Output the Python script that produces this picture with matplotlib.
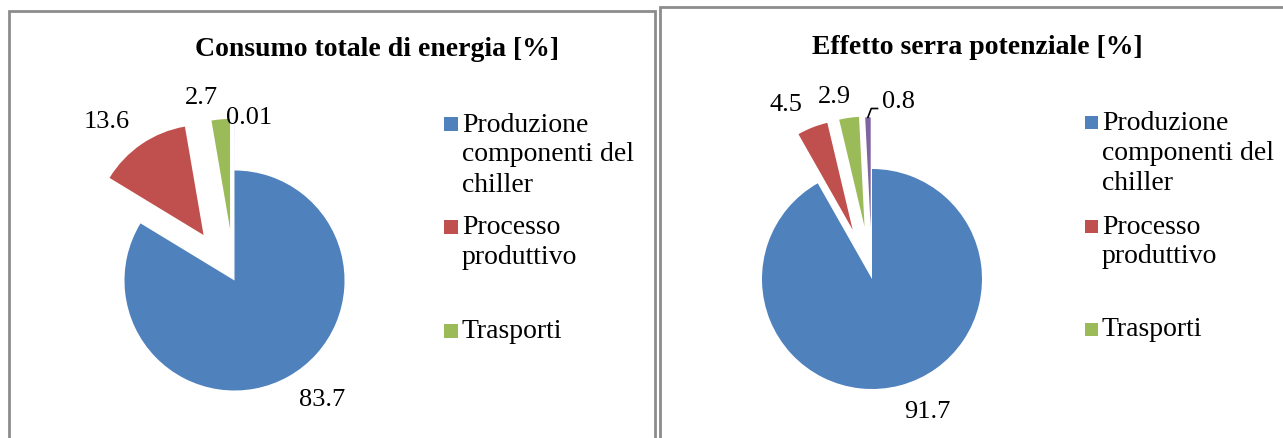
import matplotlib
matplotlib.use("Agg")
import matplotlib.pyplot as plt
import numpy as np
from matplotlib.patches import Rectangle

W, H = 1283, 439
DPI = 100

# data
categories = ["Produzione\ncomponenti del\nchiller", "Processo\nproduttivo", "Trasporti", "Altro"]
energy_values = [83.7, 13.6, 2.7, 0.01]
energy_labels = ["83.7", "13.6", "2.7", "0.01"]
gwp_values = [91.7, 4.5, 2.9, 0.8]
gwp_labels = ["91.7", "4.5", "2.9", "0.8"]
colors = ["#4F81BD", "#C0504D", "#9BBB59", "#8064A2"]

SERIF = ["Liberation Serif", "DejaVu Serif"]
BORDER = "#8c8c8c"


def fx(x):
    return x / W


def fy(y):
    return 1 - y / H


def fit_axes(ax, cx, cy, r, box):
    """Data units = one pie radius, pie centre at pixel (cx, cy)."""
    x0, y0, x1, y1 = box
    ax.set_position([fx(x0), fy(y1), (x1 - x0) / W, (y1 - y0) / H])
    ax.set_aspect("auto")
    ax.set_xlim((x0 - cx) / r, (x1 - cx) / r)
    ax.set_ylim((cy - y1) / r, (cy - y0) / r)
    ax.axis("off")


def legend(fig, x, rows, size):
    for cat, color, ys in zip(categories[:3], colors, rows):
        fig.patches.append(Rectangle((fx(x), fy(ys[0] + size / 2)), size / W, size / H,
                                     transform=fig.transFigure, facecolor=color,
                                     edgecolor="none"))
        for line, y in zip(cat.split("\n"), ys):
            fig.text(fx(x + size + 4), fy(y), line, family=SERIF, fontsize=20,
                     ha="left", va="center")


fig = plt.figure(figsize=(W / DPI, H / DPI), dpi=DPI)

# panel frames
fig.patches.append(Rectangle((fx(8.5), fy(460)), (655 - 8.5) / W, (460 - 11.5) / H,
                             transform=fig.transFigure, fill=False, edgecolor=BORDER, lw=2))
fig.patches.append(Rectangle((fx(660), fy(460)), (1300 - 660) / W, (460 - 8) / H,
                             transform=fig.transFigure, fill=False, edgecolor=BORDER, lw=2))

# left: energy
ax1 = fig.add_axes([0, 0, 1, 1])
ax1.pie(energy_values, colors=colors, startangle=90, counterclock=False,
        explode=[0, 0.5, 0.47, 0.47], wedgeprops={"linewidth": 0})
fit_axes(ax1, 234.5, 281.5, 110, (20, 60, 430, 439))
label_pos1 = [(0.80, -1.08), (-1.16, 1.45), (-0.30, 1.67), (0.13, 1.49)]
for txt, (x, y) in zip(energy_labels, label_pos1):
    ax1.text(x, y, txt, family=SERIF, fontsize=19, ha="center", va="center")
fig.text(fx(377), fy(50), "Consumo totale di energia [%]", family=SERIF, fontsize=20,
         fontweight="bold", ha="center", va="center")
legend(fig, 444, [(125, 155, 185), (228, 258), (332,)], 14)

# right: global warming potential
ax2 = fig.add_axes([0, 0, 1, 1])
wedges, _ = ax2.pie(gwp_values, colors=colors, startangle=90, counterclock=False,
                    explode=[0, 0.48, 0.48, 0.47], wedgeprops={"linewidth": 0})
fit_axes(ax2, 872, 280, 110, (680, 60, 1070, 439))
label_pos2 = [(0.50, -1.20), (-0.78, 1.59), (-0.34, 1.66), (0.24, 1.62)]
for txt, (x, y) in zip(gwp_labels, label_pos2):
    ax2.text(x, y, txt, family=SERIF, fontsize=19, ha="center", va="center")

# leader line for the smallest slice
w = wedges[3]
th = np.deg2rad((w.theta1 + w.theta2) / 2)
tip = (w.center[0] + w.r * np.cos(th), w.center[1] + w.r * np.sin(th))
ax2.plot([tip[0], tip[0] + 0.03, 0.05], [tip[1], 1.55, 1.55], color="black", lw=1.2)

fig.text(fx(977), fy(47), "Effetto serra potenziale [%]", family=SERIF, fontsize=20,
         fontweight="bold", ha="center", va="center")
legend(fig, 1085, [(123, 153, 183), (227, 257), (330,)], 13)

fig.savefig("out.png", dpi=DPI)
